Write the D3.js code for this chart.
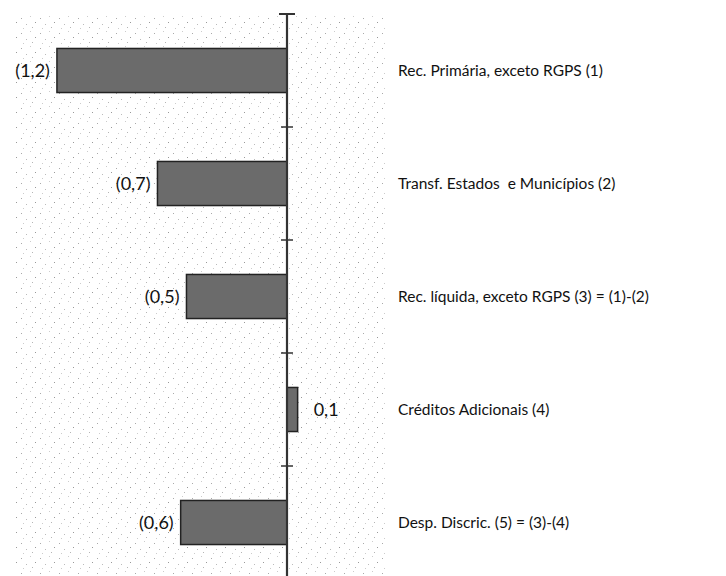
<!DOCTYPE html>
<html><head><meta charset="utf-8">
<script src="https://cdn.jsdelivr.net/npm/d3@7"></script>
<style>html,body{margin:0;padding:0;background:#fff;}svg{display:block;}</style>
</head><body><div id="chart"></div>
<script>
const categories = [
  "Rec. Primária, exceto RGPS (1)",
  "Transf. Estados  e Municípios (2)",
  "Rec. líquida, exceto RGPS (3) = (1)-(2)",
  "Créditos Adicionais (4)",
  "Desp. Discric. (5) = (3)-(4)"
];
const values = [-1.19, -0.67, -0.52, 0.055, -0.55];
const valueLabels = ["(1,2)", "(0,7)", "(0,5)", "0,1", "(0,6)"];

const W = 726, H = 576;
const svg = d3.select("#chart").append("svg").attr("width", W).attr("height", H);
const font = "Lato, 'Open Sans', sans-serif";

// halftone-like stipple background
const defs = svg.append("defs");
const pat = defs.append("pattern").attr("id","dots").attr("patternUnits","userSpaceOnUse")
  .attr("width",19).attr("height",15);
[[2,3,"#aaa"],[11,1,"#ccc"],[7,9,"#bbb"],[16,7,"#999"],[4,13,"#ccc"],[13,12,"#b5b5b5"]].forEach(p=>{
  pat.append("rect").attr("x",p[0]).attr("y",p[1]).attr("width",1).attr("height",1).attr("fill",p[2]);
});
svg.append("rect").attr("x",15).attr("y",14).attr("width",370).attr("height",H-14).attr("fill","url(#dots)");

const x = d3.scaleLinear().domain([-1.2, 0.1]).range([55, 55 + 1.3 * (232 / 1.2)]);
const y = d3.scaleBand().domain(categories).range([14, 579]).paddingInner(0.61).paddingOuter(0.305);

// bars
svg.selectAll("rect.bar").data(values).join("rect").attr("class","bar")
  .attr("x", d => x(Math.min(0, d)))
  .attr("y", (d,i) => y(categories[i]))
  .attr("width", d => Math.abs(x(d) - x(0)))
  .attr("height", y.bandwidth())
  .attr("fill", "#6b6b6b").attr("stroke", "#222").attr("stroke-width", 1.5);

// axis line
const x0 = x(0);
svg.append("line").attr("x1", x0).attr("x2", x0).attr("y1", 14).attr("y2", H)
  .attr("stroke", "#333").attr("stroke-width", 2.2);
svg.append("line").attr("x1", x0 - 8).attr("x2", x0 + 8).attr("y1", 14).attr("y2", 14)
  .attr("stroke", "#333").attr("stroke-width", 2);
// category separator ticks
const step = y.step();
svg.selectAll("line.tick").data(categories.slice(1)).join("line").attr("class","tick")
  .attr("x1", x0 - 6).attr("x2", x0 + 6)
  .attr("y1", d => y(d) - (step - y.bandwidth()) / 2)
  .attr("y2", d => y(d) - (step - y.bandwidth()) / 2)
  .attr("stroke", "#333").attr("stroke-width", 1.5);

// value labels
svg.selectAll("text.val").data(values).join("text").attr("class","val")
  .attr("x", d => d < 0 ? x(d) - 7 : x(d) + 16)
  .attr("y", (d,i) => y(categories[i]) + y.bandwidth() / 2)
  .attr("dy", "0.35em")
  .attr("text-anchor", d => d < 0 ? "end" : "start")
  .attr("font-family", font).attr("font-size", 18).attr("fill", "#111")
  .text((d,i) => valueLabels[i]);

// category labels
svg.selectAll("text.cat").data(categories).join("text").attr("class","cat")
  .attr("x", 398)
  .attr("y", d => y(d) + y.bandwidth() / 2)
  .attr("dy", "0.35em")
  .attr("font-family", font).attr("font-size", 15.5).attr("fill", "#111")
  .style("white-space","pre")
  .text(d => d);
</script></body></html>
